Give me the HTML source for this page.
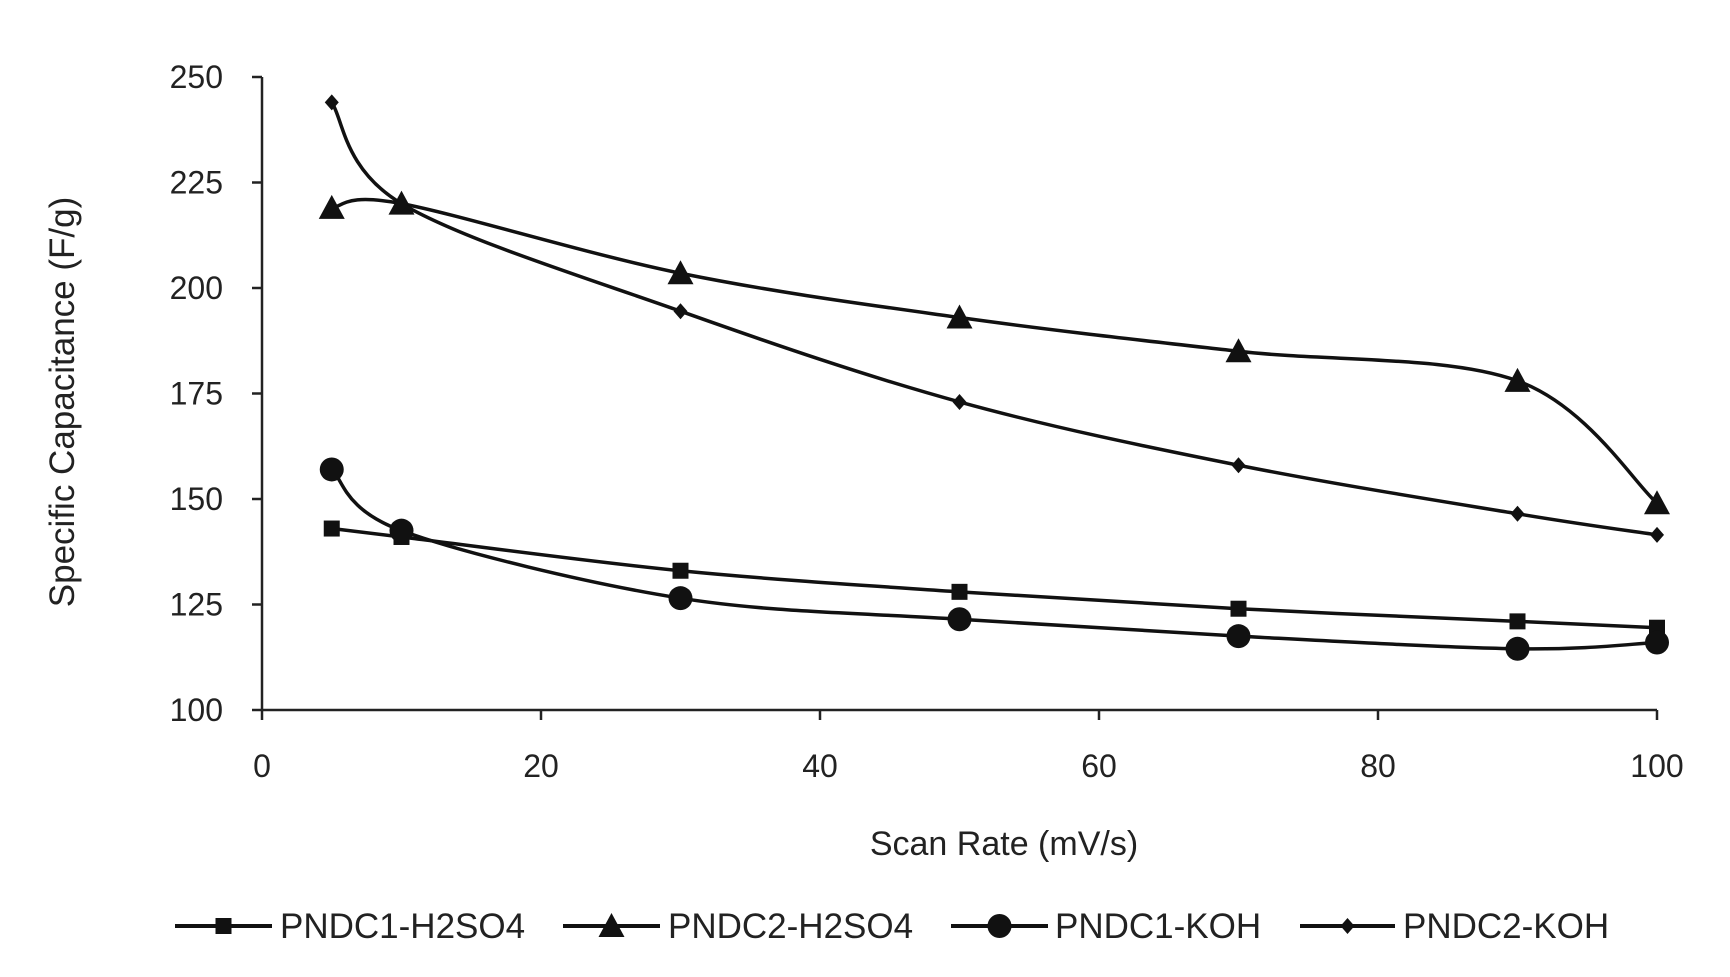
<!DOCTYPE html>
<html><head><meta charset="utf-8">
<style>
html,body{margin:0;padding:0;background:#fff;}
svg{display:block;}
text{font-family:"Liberation Sans",sans-serif;fill:#222;}
</style></head>
<body>
<svg id="c" width="1730" height="977" viewBox="0 0 1730 977" xmlns="http://www.w3.org/2000/svg">
<g id="axes" stroke="#222" stroke-width="2.5" fill="none">
<line x1="262" y1="77" x2="262" y2="710"/>
<line x1="262" y1="710" x2="1657" y2="710"/>
</g>
<g id="ticks" stroke="#222" stroke-width="2.5"></g>
<g id="labels" font-size="32"></g>
<text x="1004" y="855" font-size="34" text-anchor="middle">Scan Rate (mV/s)</text>
<text transform="translate(74,402) rotate(-90)" font-size="35" text-anchor="middle">Specific Capacitance (F/g)</text>
<g id="series"></g>
<g id="legend" font-size="35"></g>
</svg>
<script>
var NS="http://www.w3.org/2000/svg";
function X(v){return 262+v*(1657-262)/100;}
function Y(v){return 710-(v-100)*(710-77)/150;}
function el(p,t,a,txt){var e=document.createElementNS(NS,t);for(var k in a)e.setAttribute(k,a[k]);if(txt!==undefined)e.textContent=txt;document.getElementById(p).appendChild(e);return e;}
for(var v=100;v<=250;v+=25){el("ticks","line",{x1:252,x2:262,y1:Y(v),y2:Y(v)});el("labels","text",{x:223,y:Y(v)+11,"text-anchor":"end"},v);}
for(var v=0;v<=100;v+=20){el("ticks","line",{x1:X(v),x2:X(v),y1:710,y2:720});el("labels","text",{x:X(v),y:777,"text-anchor":"middle"},v);}
var xs=[5,10,30,50,70,90,100];
var S=[
 {m:"sq",d:[143,141,133,128,124,121,119.5]},
 {m:"tri",d:[219,220,203.5,193,185,178,149]},
 {m:"circ",d:[157,142.5,126.5,121.5,117.5,114.5,116]},
 {m:"dia",d:[244,220,194.5,173,158,146.5,141.5]}
];
function path(pts){var d="M"+pts[0][0]+","+pts[0][1];
 for(var i=0;i<pts.length-1;i++){var p0=pts[i-1]||pts[i],p1=pts[i],p2=pts[i+1],p3=pts[i+2]||p2;var t=6;
  d+=" C"+(p1[0]+(p2[0]-p0[0])/t)+","+(p1[1]+(p2[1]-p0[1])/t)+" "+(p2[0]-(p3[0]-p1[0])/t)+","+(p2[1]-(p3[1]-p1[1])/t)+" "+p2[0]+","+p2[1];}
 return d;}
function marker(g,m,x,y){
 if(m=="sq")el(g,"rect",{x:x-8,y:y-8,width:16,height:16,fill:"#111"});
 if(m=="tri")el(g,"polygon",{points:(x-13)+","+(y+11)+" "+(x+13)+","+(y+11)+" "+x+","+(y-13),fill:"#111"});
 if(m=="circ")el(g,"circle",{cx:x,cy:y,r:12,fill:"#111"});
 if(m=="dia")el(g,"polygon",{points:x+","+(y-8)+" "+(x+7)+","+y+" "+x+","+(y+8)+" "+(x-7)+","+y,fill:"#111"});
}
S.forEach(function(s){var pts=xs.map(function(x,i){return [X(x),Y(s.d[i])];});
 el("series","path",{d:path(pts),fill:"none",stroke:"#111","stroke-width":3.5});
 pts.forEach(function(p){marker("series",s.m,p[0],p[1]);});});
var L=[[175,272,280,"PNDC1-H2SO4","sq"],[563,660,668,"PNDC2-H2SO4","tri"],[951,1048,1055,"PNDC1-KOH","circ"],[1300,1395,1403,"PNDC2-KOH","dia"]];
L.forEach(function(l){el("legend","line",{x1:l[0],x2:l[1],y1:926,y2:926,stroke:"#111","stroke-width":4});marker("legend",l[4],(l[0]+l[1])/2,926);el("legend","text",{x:l[2],y:938},l[3]);});
</script>
</body></html>
